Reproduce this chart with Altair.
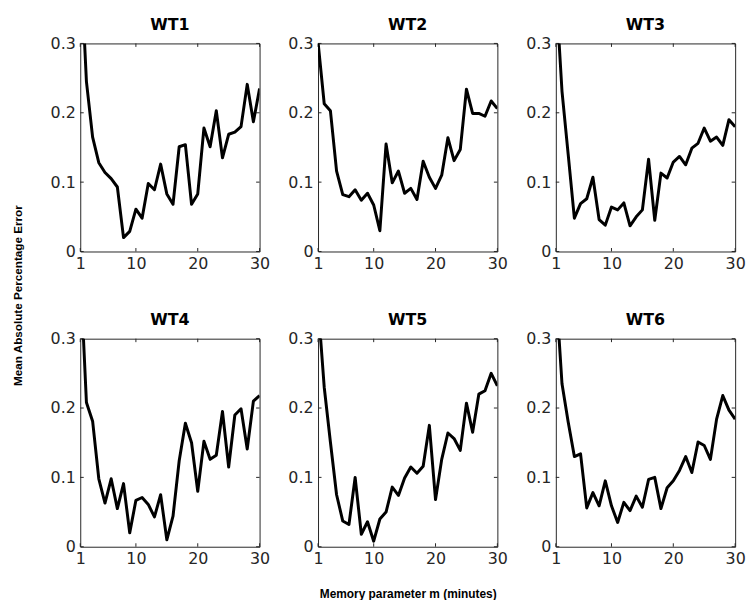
import altair as alt
import pandas as pd

M = list(range(1, 31))
WT1 = [0.43, 0.245, 0.165, 0.128, 0.114, 0.105, 0.093, 0.020, 0.029, 0.061,
       0.048, 0.098, 0.089, 0.126, 0.083, 0.068, 0.151, 0.154, 0.068, 0.083,
       0.178, 0.151, 0.203, 0.135, 0.169, 0.172, 0.180, 0.241, 0.187, 0.235]
WT2 = [0.302, 0.213, 0.203, 0.116, 0.082, 0.079, 0.089, 0.074, 0.084, 0.067,
       0.030, 0.155, 0.099, 0.116, 0.084, 0.091, 0.075, 0.130, 0.107, 0.091,
       0.110, 0.164, 0.131, 0.147, 0.234, 0.199, 0.199, 0.195, 0.217, 0.206]
WT3 = [0.38, 0.231, 0.140, 0.048, 0.069, 0.076, 0.107, 0.046, 0.038, 0.064,
       0.060, 0.070, 0.037, 0.050, 0.060, 0.133, 0.045, 0.113, 0.106, 0.129,
       0.137, 0.125, 0.149, 0.156, 0.178, 0.159, 0.165, 0.153, 0.190, 0.180]
WT4 = [0.40, 0.208, 0.181, 0.098, 0.063, 0.098, 0.055, 0.091, 0.020, 0.067,
       0.071, 0.061, 0.043, 0.075, 0.010, 0.044, 0.124, 0.178, 0.150, 0.080,
       0.152, 0.126, 0.132, 0.195, 0.115, 0.190, 0.199, 0.141, 0.210, 0.218]
WT5 = [0.35, 0.230, 0.151, 0.075, 0.037, 0.032, 0.100, 0.018, 0.036, 0.008,
       0.040, 0.050, 0.086, 0.074, 0.099, 0.115, 0.106, 0.116, 0.175, 0.068,
       0.126, 0.164, 0.156, 0.139, 0.207, 0.165, 0.220, 0.225, 0.250, 0.232]
WT6 = [0.373, 0.235, 0.180, 0.130, 0.134, 0.056, 0.078, 0.059, 0.095, 0.059,
       0.035, 0.064, 0.052, 0.073, 0.057, 0.097, 0.100, 0.055, 0.085, 0.095,
       0.110, 0.130, 0.107, 0.151, 0.146, 0.126, 0.184, 0.218, 0.197, 0.184]

NAMES = ["WT1", "WT2", "WT3", "WT4", "WT5", "WT6"]
SERIES = [WT1, WT2, WT3, WT4, WT5, WT6]
XTICKS = [1, 10, 20, 30]
YTICKS = [0, 0.1, 0.2, 0.3]
X_LABEL = "Memory parameter m (minutes)"
Y_LABEL = "Mean Absolute Percentage Error"

W, H = 181, 210
FONT = "DejaVu Sans"
TFONT = "Liberation Sans"
AX = "#262626"
TL = 3.5


def panel(i):
    df = pd.DataFrame({"m": M, "v": SERIES[i]})
    xt = pd.DataFrame({"m": XTICKS})
    yt = pd.DataFrame({"v": YTICKS})

    xaxis_kw = dict(values=XTICKS, ticks=False, domain=False, grid=False,
                    labelFont=FONT, labelFontSize=16, labelColor=AX,
                    labelPadding=4, labelFlush=False, labelOverlap=False)
    yaxis_kw = dict(values=YTICKS, ticks=False, domain=False, grid=False,
                    labelFont=FONT, labelFontSize=16, labelColor=AX,
                    labelPadding=5, labelOverlap=False, format=".1~f")
    if i == 4:
        xaxis_kw.update(title=X_LABEL, titleFont=TFONT, titleFontSize=12,
                        titleFontWeight="bold", titleColor="black", titlePadding=22)
    if i == 0:
        yaxis_kw.update(title=Y_LABEL, titleFont=TFONT, titleFontSize=11.8,
                        titleFontWeight="bold", titleColor="black",
                        titleX=-63, titleY=254, titleAngle=270,
                        titleAlign="center", titleBaseline="middle")

    xenc = alt.X("m:Q", scale=alt.Scale(domain=[1, 30], nice=False, zero=False),
                 axis=alt.Axis(**xaxis_kw),
                 title=X_LABEL if i == 4 else None)
    yenc = alt.Y("v:Q", scale=alt.Scale(domain=[0, 0.3], nice=False),
                 axis=alt.Axis(**yaxis_kw),
                 title=Y_LABEL if i == 0 else None)

    line = alt.Chart(df).mark_line(color="black", strokeWidth=3, clip=True,
                                   strokeJoin="round").encode(x=xenc, y=yenc)
    xb = alt.Chart(xt).mark_rule(color=AX, strokeWidth=1).encode(
        x=xenc, y=alt.value(H), y2=alt.value(H - TL))
    xtop = alt.Chart(xt).mark_rule(color=AX, strokeWidth=1).encode(
        x=xenc, y=alt.value(0), y2=alt.value(TL))
    yl = alt.Chart(yt).mark_rule(color=AX, strokeWidth=1).encode(
        y=yenc, x=alt.value(0), x2=alt.value(TL))
    yr = alt.Chart(yt).mark_rule(color=AX, strokeWidth=1).encode(
        y=yenc, x=alt.value(W - TL), x2=alt.value(W))

    return alt.layer(xb, xtop, yl, yr, line).properties(
        width=W, height=H,
        title=alt.Title(NAMES[i], font=FONT, fontSize=16, fontWeight="bold",
                        color="black", offset=3, anchor="middle", frame="group"))


chart = alt.concat(*[panel(i) for i in range(6)], columns=3,
                   spacing=alt.RowColnumber(row=88, column=59),
                   bounds="flush").properties(
    padding={"left": 12, "top": 13, "right": 5, "bottom": 5},
    background="white",
).configure_view(stroke=AX, strokeWidth=1)

chart.save("out.html", embed_options={"renderer": "svg", "actions": False})
